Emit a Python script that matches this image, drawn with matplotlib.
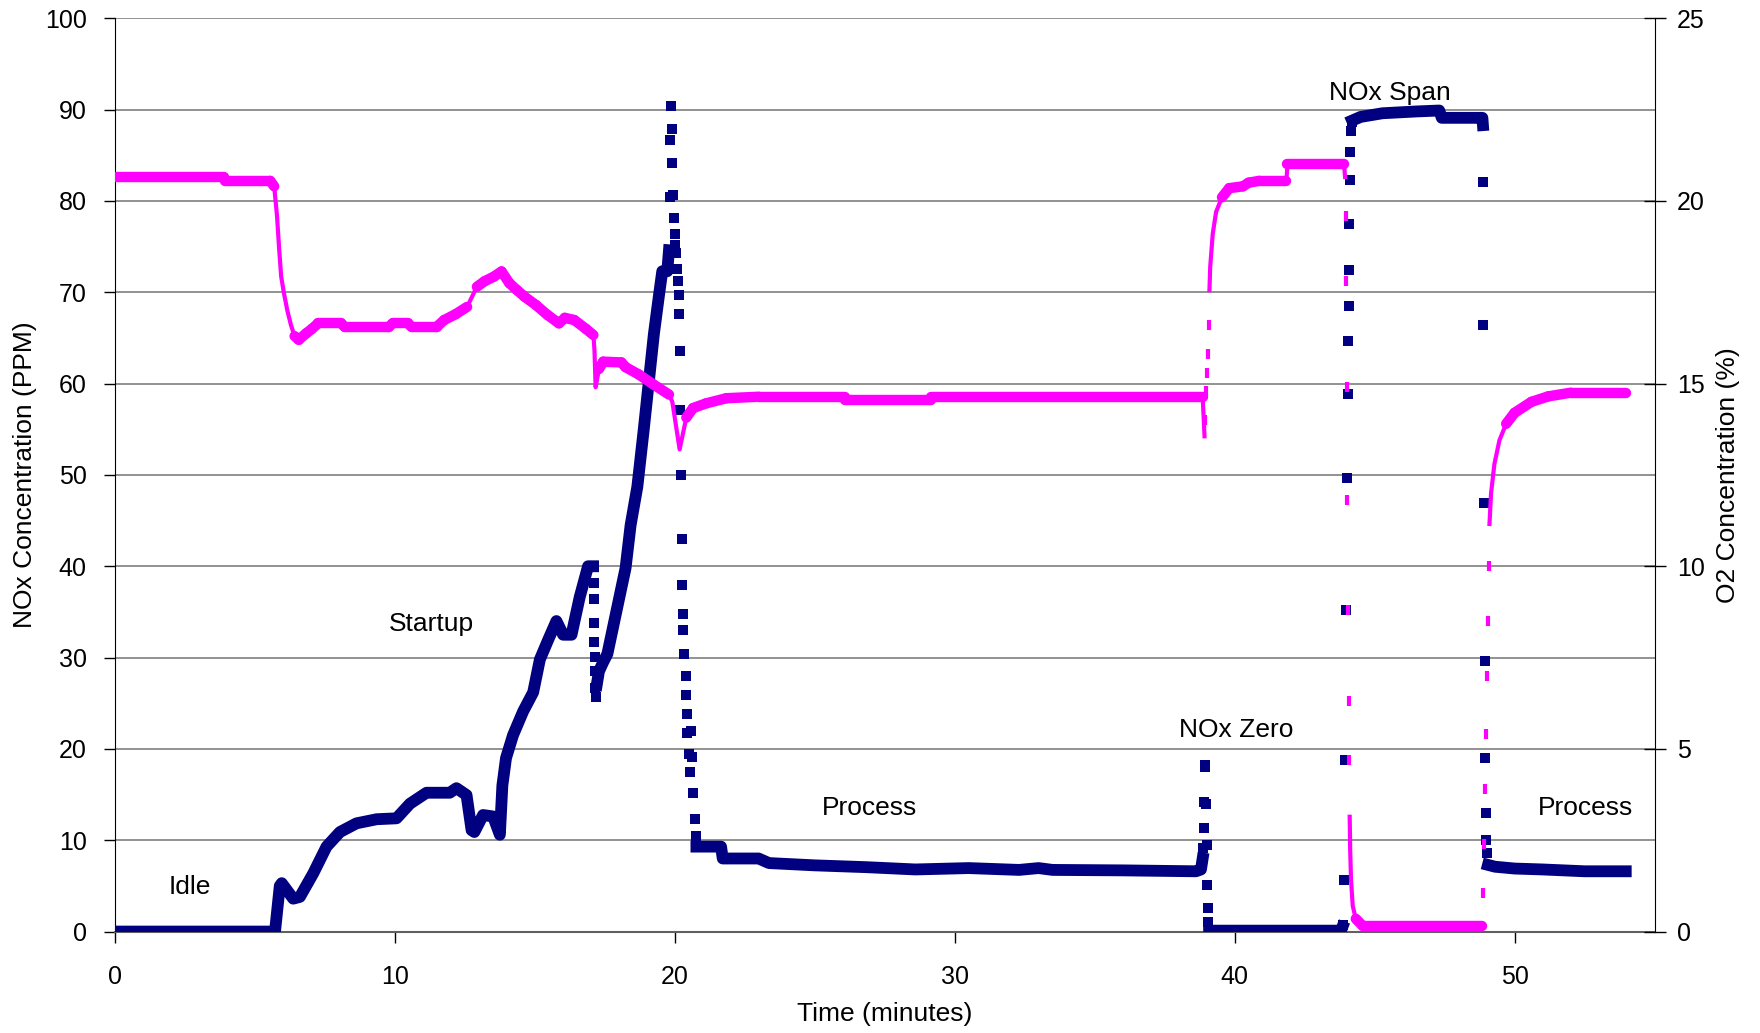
import numpy as np
import matplotlib
matplotlib.use("Agg")
import matplotlib.pyplot as plt
from matplotlib.collections import LineCollection

plt.rcParams['font.family'] = ['Liberation Sans', 'DejaVu Sans']
plt.rcParams['font.size'] = 18

nan = np.nan

# NOx analyser, stretches where the readings form a solid trace (nan = break)
nox_line_min = [0, 5.73, 5.9, 5.97, 6.38, 6.62, 7.1, 7.57, 8.05, 8.64, 9.36, 10.07, 10.55, 11.14, 11.97,
                12.21, 12.57, 12.75, 12.85, 13.16, 13.52, 13.76, 13.85, 13.98, 14.23, 14.59, 14.95, 15.19,
                15.48, 15.78, 16.02, 16.32, 16.61, 16.91, 17.09,
                nan,
                17.22, 17.3, 17.45, 17.6, 17.78, 18.07, 18.25, 18.43, 18.67, 18.9, 19.08, 19.26, 19.44,
                19.56, 19.74, 19.8,
                nan,
                20.78, 21.66, 21.72, 23.0, 23.37, 25.0, 26.85, 28.6, 30.5, 32.3, 33.0, 33.5, 36.0, 38.62,
                38.8, 38.86,
                nan,
                39.09, 43.8, 43.85,
                nan,
                44.2, 44.5, 45.28, 46.5, 47.31, 47.4, 48.85, 48.87,
                nan,
                49.05, 49.3, 50.0, 51.0, 52.5, 53.97]
nox_line_ppm = [0, 0, 5.0, 5.3, 3.6, 3.8, 6.4, 9.3, 10.9, 11.85, 12.3, 12.4, 14.0, 15.2, 15.2,
                15.7, 14.95, 11.1, 10.9, 12.76, 12.6, 10.6, 16.0, 19.0, 21.5, 24.1, 26.2, 29.8,
                31.9, 34.0, 32.5, 32.5, 36.6, 40.0, 40.0,
                nan,
                27.0, 28.5, 29.5, 30.4, 33.0, 37.2, 39.8, 44.5, 48.7, 55.0, 60.2, 65.4, 69.6,
                72.3, 72.3, 74.6,
                nan,
                9.3, 9.3, 8.0, 8.0, 7.5, 7.25, 7.05, 6.8, 6.95, 6.75, 6.95, 6.75, 6.7, 6.6,
                6.8, 8.0,
                nan,
                0.1, 0.1, 0.5,
                nan,
                88.8, 89.2, 89.6, 89.8, 89.9, 89.1, 89.1, 88.3,
                nan,
                7.3, 7.1, 6.9, 6.8, 6.6, 6.6]

# NOx single readings during fast changes
nox_dot_min = [17.11, 17.12, 17.13, 17.14, 17.15, 17.16, 17.17, 17.18,
               19.83, 19.85, 19.88, 19.90, 19.92, 19.94, 19.98, 20.00, 20.03, 20.06, 20.10, 20.12, 20.15,
               20.16, 20.18, 20.21, 20.24, 20.26, 20.27, 20.29, 20.30, 20.35, 20.40, 20.42, 20.44, 20.46,
               20.50, 20.56, 20.60, 20.63, 20.66, 20.72, 20.76,
               38.88, 38.90, 38.92, 38.94, 38.96, 38.98, 39.00, 39.02, 39.04, 39.06,
               43.88, 43.92, 43.96, 43.99, 44.02, 44.04, 44.06, 44.07, 44.08, 44.10, 44.12, 44.14, 44.16, 44.18,
               48.88, 48.89, 48.91, 48.93, 48.95, 48.97, 48.99, 49.01]
nox_dot_ppm = [38.2, 36.4, 33.8, 31.7, 30.1, 28.5, 26.7, 25.7,
               80.4, 86.7, 90.4, 87.9, 84.2, 80.7, 78.1, 76.4, 75.2, 74.3, 72.5, 71.2, 69.7,
               67.6, 63.6, 57.1, 50.0, 43.0, 38.0, 34.8, 33.0, 30.4, 28.0, 25.9, 23.8, 21.7,
               19.4, 17.5, 22.0, 19.1, 15.2, 12.3, 10.5,
               9.2, 11.3, 14.2, 18.0, 18.2, 14.0, 9.5, 5.1, 2.6, 1.1,
               0.75, 5.6, 18.8, 35.2, 49.7, 58.9, 64.7, 68.5, 72.4, 77.5, 82.3, 85.4, 87.7, 88.6,
               82.1, 66.4, 46.9, 29.6, 19.0, 13.0, 10.0, 8.6]

# O2 analyser, solid trace
o2_line_min = [0, 3.92, 3.95, 5.56, 5.70, 5.80, 5.88, 5.95, 6.05, 6.17, 6.30, 6.43, 6.58, 6.85, 7.05,
               7.27, 8.09, 8.22, 9.79, 9.93, 10.48, 10.61, 11.5, 11.77, 12.18, 12.59, 12.94, 13.21, 13.55,
               13.82, 14.1, 14.37, 14.64, 15.05, 15.46, 15.87, 16.08, 16.42, 16.83, 17.1, 17.14, 17.18,
               17.3, 17.45, 18.1, 18.25, 18.72, 19.2, 19.8, 19.92, 20.18, 20.42, 20.66, 21.13, 21.85,
               23.0, 26.08, 26.1, 29.15, 29.17, 38.86, 38.90, 38.93,
               nan,
               39.10, 39.13, 39.22, 39.34, 39.55, 39.81, 40.3, 40.5, 40.88, 41.85, 41.89, 43.91, 43.95,
               nan,
               44.11, 44.13, 44.16, 44.22, 44.33, 44.57, 48.85,
               nan,
               49.10, 49.16, 49.28, 49.46, 49.7, 50.0, 50.6, 51.2, 52.0, 53.97]
o2_line_pct = [20.65, 20.65, 20.55, 20.55, 20.4, 19.6, 18.66, 17.93, 17.47, 17.0, 16.6, 16.3, 16.2, 16.38, 16.5,
               16.65, 16.65, 16.55, 16.55, 16.65, 16.65, 16.55, 16.55, 16.74, 16.9, 17.1, 17.65, 17.8, 17.93,
               18.07, 17.75, 17.56, 17.38, 17.15, 16.88, 16.65, 16.8, 16.74, 16.5, 16.33, 15.9, 14.9,
               15.4, 15.6, 15.58, 15.45, 15.25, 15.0, 14.7, 14.5, 13.2, 14.07, 14.33, 14.46, 14.6,
               14.64, 14.64, 14.55, 14.55, 14.64, 14.64, 14.0, 13.5,
               nan,
               17.5, 18.2, 19.1, 19.7, 20.1, 20.35, 20.4, 20.5, 20.55, 20.55, 21.0, 21.0, 20.6,
               nan,
               3.2, 2.2, 1.4, 0.7, 0.35, 0.16, 0.16,
               nan,
               11.1, 12.0, 12.8, 13.45, 13.9, 14.2, 14.5, 14.65, 14.75, 14.75]

# O2 single readings during fast changes
o2_dot_min = [38.95, 38.98, 39.01, 39.04, 39.07,
              43.97, 43.99, 44.01, 44.03, 44.05, 44.07, 44.09,
              48.88, 48.92, 48.95, 48.98, 49.01, 49.04, 49.07]
o2_dot_pct = [14.0, 14.8, 15.3, 15.8, 16.6,
              19.6, 17.8, 14.9, 11.8, 8.8, 6.3, 4.7,
              1.05, 2.4, 3.9, 5.4, 7.0, 8.5, 10.0]

labels = ['Idle', 'Startup', 'Process', 'NOx Zero', 'NOx Span', 'Process']
label_min = [2.68, 11.3, 26.96, 40.06, 45.55, 52.55]
label_ppm = [4.9, 33.7, 13.5, 22.1, 91.8, 13.5]

navy = '#000080'
magenta = '#FF00FF'

fig = plt.figure(figsize=(17.6, 10.33), dpi=100)
ax = fig.add_axes([0.0651, 0.0982, 0.875, 0.8841])

ax.set_xlim(0, 55)
ax.set_ylim(0, 100)
ax.set_xticks(range(0, 51, 10))
ax.set_yticks(range(0, 101, 10))
ax.yaxis.grid(True, color='#7f7f7f', linewidth=1.2)
ax.set_axisbelow(True)
ax.spines['top'].set_visible(False)
ax.spines['right'].set_visible(False)
ax.spines['left'].set_color('black')
ax.spines['bottom'].set_color('#606060')
ax.spines['bottom'].set_linewidth(1.5)
ax.tick_params(axis='y', direction='out', length=8, width=1, pad=12, labelsize=18)
ax.tick_params(axis='x', direction='out', length=8, width=1, pad=16, labelsize=18)

ax.plot(nox_line_min, nox_line_ppm, color=navy, lw=8.5,
        solid_capstyle='projecting', solid_joinstyle='round', zorder=3)
ax.plot(nox_dot_min, nox_dot_ppm, ls='none', marker='s', ms=7.5, mew=0, color=navy, zorder=3)

for txt, x, y in zip(labels, label_min, label_ppm):
    ax.text(x, y, txt, ha='center', va='center', fontsize=19)

ax2 = ax.twinx()
ax2.set_ylim(0, 25)
ax2.set_yticks(range(0, 26, 5))
for s in ['top', 'left', 'bottom']:
    ax2.spines[s].set_visible(False)
ax2.spines['right'].set_color('black')
ax2.tick_params(axis='y', direction='inout', length=16, width=1, pad=8, labelsize=18)

# thin trace everywhere, the noisy near-flat stretches read as a wider band
ax2.plot(o2_line_min, o2_line_pct, color=magenta, lw=3,
         solid_capstyle='butt', solid_joinstyle='round', zorder=4)
t = np.array(o2_line_min)
v = np.array(o2_line_pct)
pts = np.column_stack([t, v])
segs = np.stack([pts[:-1], pts[1:]], axis=1)
with np.errstate(invalid='ignore', divide='ignore'):
    slope = np.abs(np.diff(v) / np.diff(t))
flat = ~np.isnan(slope) & (slope < 1.5)
ax2.add_collection(LineCollection(segs[flat], colors=magenta, linewidths=7.5,
                                  capstyle='round', joinstyle='round', zorder=4))
ax2.plot(o2_dot_min, o2_dot_pct, ls='none', marker='|', ms=7, mew=3, color=magenta, zorder=4)

fig.text(0.014, 0.5404, 'NOx Concentration (PPM)', rotation=90, ha='center', va='center', fontsize=19)
fig.text(0.9821, 0.5404, 'O2 Concentration (%)', rotation=90, ha='center', va='center', fontsize=19)
fig.text(0.5026, 0.0188, 'Time (minutes)', ha='center', va='center', fontsize=19)

fig.savefig('out.png', dpi=100)
